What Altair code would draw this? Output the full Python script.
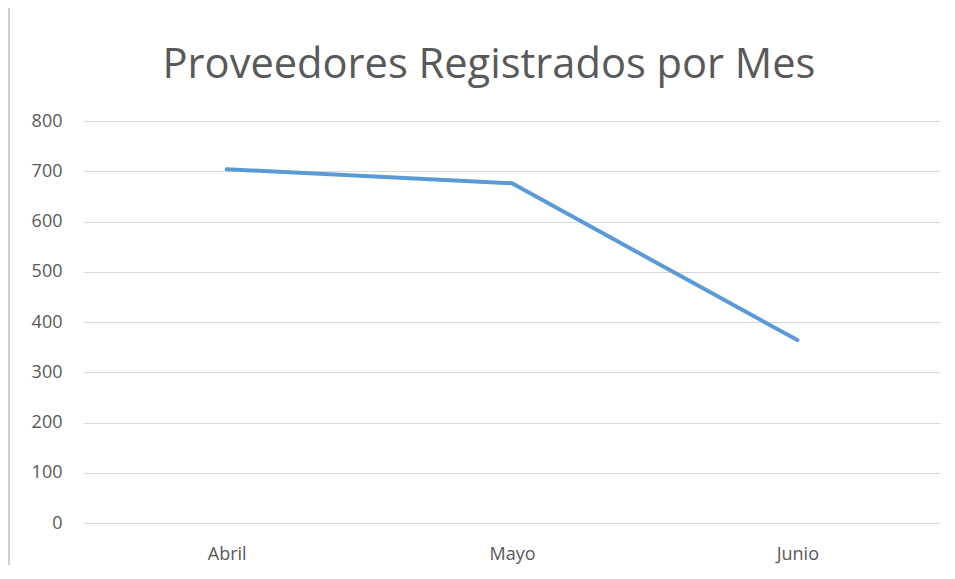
import altair as alt
import pandas as pd

months = ["Abril", "Mayo", "Junio"]
values = [704, 676, 364]
y_ticks = [0, 100, 200, 300, 400, 500, 600, 700, 800]

df = pd.DataFrame({"Mes": months, "Proveedores": values})

TEXT = "#595959"
GRID = "#D9D9D9"
FONT = "Open Sans"

W, H = 856, 402
PAD = {"left": 76, "top": 113, "right": 7, "bottom": 42}
BORDER = "#D0D0D0"

one = pd.DataFrame({"a": [0]})
left_edge = alt.Chart(one).mark_rect(fill=BORDER, stroke=None, clip=False).encode(
    x=alt.value(-76), x2=alt.value(-74), y=alt.value(-113), y2=alt.value(H + PAD["bottom"])
)

line = alt.Chart(df).mark_line(
    color="#5B9BD5", strokeWidth=4, strokeCap="round", strokeJoin="round"
).encode(
    x=alt.X("Mes:N", sort=months, title=None,
            scale=alt.Scale(type="point", padding=0.5),
            axis=alt.Axis(labelAngle=0, ticks=False, tickSize=0, domain=False,
                          grid=False, labelPadding=22, labelFontSize=18,
                          labelFont=FONT, labelColor=TEXT)),
    y=alt.Y("Proveedores:Q", title=None,
            scale=alt.Scale(domain=[0, 800], nice=False),
            axis=alt.Axis(values=y_ticks, ticks=False, tickSize=0, domain=False,
                          grid=True, gridColor=GRID, gridWidth=1,
                          labelPadding=22, labelFontSize=18,
                          labelFont=FONT, labelColor=TEXT)),
)

chart = alt.layer(left_edge, line).properties(
    width=W, height=H, background="white",
    title=alt.TitleParams(
        "Proveedores Registrados por Mes", font=FONT, fontSize=41.6,
        fontWeight="normal", color=TEXT, anchor="middle", dx=-23, offset=0, dy=79,
    ),
    padding=PAD,
    autosize=alt.AutoSizeParams(type="none"),
).configure_view(stroke=None)

chart.save("out.html", embed_options={"renderer": "svg", "actions": False})
